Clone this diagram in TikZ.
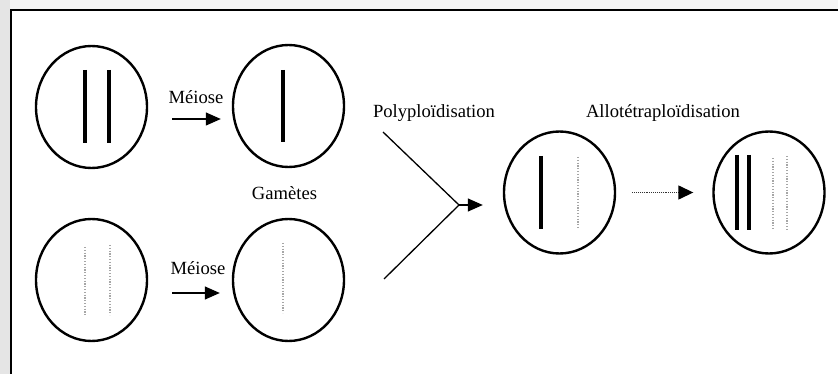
\documentclass[tikz,border=0pt]{standalone}
\usepackage{fontspec}
\setmainfont{Liberation Serif}
\usetikzlibrary{shapes.geometric,arrows.meta}
\tikzset{
  cell/.style={draw, line width=2.4pt, ellipse, minimum width=111pt, minimum height=122pt, inner sep=0pt},
  chrom/.style={line width=3.6pt, black},
  faint/.style={line width=1.1pt, black!35, dash pattern=on 1.2pt off 1.6pt},
  arr/.style={line width=1.3pt, -{Triangle[length=15pt,width=13pt]}},
  dotarr/.style={line width=1.4pt, black!80, dash pattern=on 1pt off 0.9pt, -{Triangle[length=15pt,width=14pt,black]}},
  vline/.style={line width=1.3pt},
  lbl/.style={font=\fontsize{18.6}{22}\selectfont, inner sep=0pt},
  frame/.style={line width=2.4pt}
}
\begin{document}
\begin{tikzpicture}[x=1pt,y=-1pt]
\useasboundingbox (0,0) rectangle (838,374);
% scan speckle margins
\fill[black!10] (0,0) rectangle (10,374);
\fill[black!4] (10,0) rectangle (838,9);
% frame (cropped box)
\draw[frame] (11,374) -- (11,10) -- (838,10);

% cells
\node[cell] (c1) at (91.5,107) {};
\node[cell] (c2) at (288.5,106) {};
\node[cell] (c3) at (91.5,280) {};
\node[cell] (c4) at (288.5,280) {};
\node[cell] (c5) at (559.5,192.5) {};
\node[cell] (c6) at (769,192.5) {};

% chromosomes
\draw[chrom] (85,70) -- (85,143);
\draw[chrom] (109,70) -- (109,143);
\draw[chrom] (283,70) -- (283,142);
\draw[faint] (85,247) -- (85,315);
\draw[faint] (110,245) -- (110,315);
\draw[faint] (283,243) -- (283,313);
\draw[chrom] (541,156) -- (541,229);
\draw[faint] (578,157) -- (578,228);
\draw[chrom] (737,155) -- (737,230);
\draw[chrom] (749,155) -- (749,230);
\draw[faint] (773,158) -- (773,229);
\draw[faint] (787,156) -- (787,230);

% labels
\node[lbl] (m1) at (196,97) {Méiose};
\node[lbl] (m2) at (198,268) {Méiose};
\node[lbl] (gam) at (284.5,193) {Gamètes};
\node[lbl] (poly) at (434,113) {Polyploïdisation};
\node[lbl] (allo) at (663,113) {Allotétraploïdisation};

% connectors
\coordinate (a1s) at ([xshift=24pt,yshift=-12pt]c1.east);
\coordinate (a1e) at ([xshift=-11pt,yshift=-13pt]c2.west);
\draw[arr] (a1s) -- (a1e);
\coordinate (a2s) at ([xshift=24pt,yshift=-13pt]c3.east);
\coordinate (a2e) at ([xshift=-12pt,yshift=-13pt]c4.west);
\draw[arr] (a2s) -- (a2e);

\coordinate (v1) at (383,132);
\coordinate (v2) at (384,279);
\coordinate (vx) at (459,205);
\coordinate (vt) at ([xshift=-20pt,yshift=-12.5pt]c5.west);
\draw[vline] (v1) -- (vx) -- (v2);
\draw[arr] (vx) -- (vt);

\coordinate (d1) at ([xshift=16pt]c5.east);
\coordinate (d2) at ([xshift=-19pt]c6.west);
\draw[dotarr] (d1) -- (d2);
\end{tikzpicture}
\end{document}
